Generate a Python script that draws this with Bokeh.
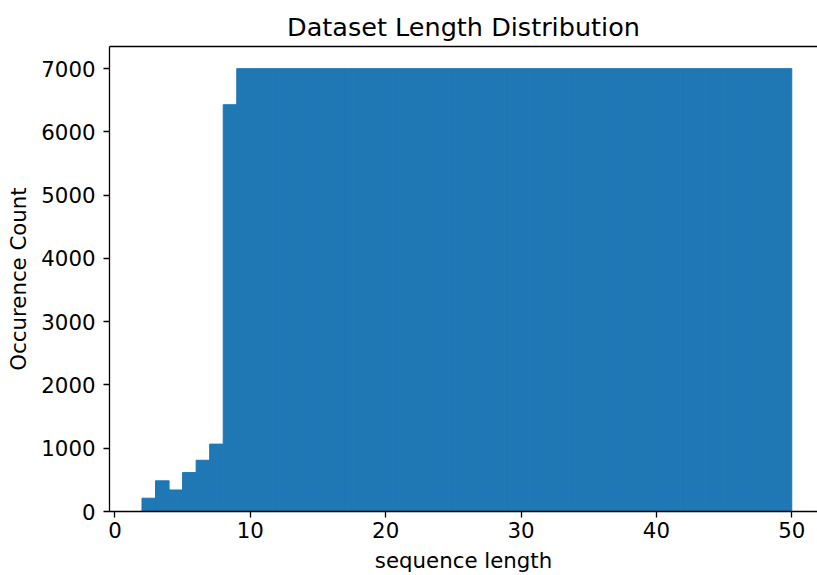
from bokeh.plotting import figure
from bokeh.models import Range1d, LinearAxis, FixedTicker, ColumnDataSource
from bokeh.embed import file_html
from bokeh.resources import INLINE

# Histogram of sequence lengths (one bin per integer length)
bin_start = [2, 3, 4, 5, 6, 7, 8, 9, 10, 11, 12, 13, 14, 15, 16, 17, 18, 19, 20,
             21, 22, 23, 24, 25, 26, 27, 28, 29, 30, 31, 32, 33, 34, 35, 36, 37,
             38, 39, 40, 41, 42, 43, 44, 45, 46, 47, 48, 49]
counts = [210, 485, 340, 615, 810, 1065, 6430,
          7000, 7000, 7000, 7000, 7000, 7000, 7000, 7000, 7000, 7000, 7000,
          7000, 7000, 7000, 7000, 7000, 7000, 7000, 7000, 7000, 7000, 7000,
          7000, 7000, 7000, 7000, 7000, 7000, 7000, 7000, 7000, 7000, 7000,
          7000, 7000, 7000, 7000, 7000, 7000, 7000, 7000]
x_ticks = [0, 10, 20, 30, 40, 50]
y_ticks = [0, 1000, 2000, 3000, 4000, 5000, 6000, 7000]

source = ColumnDataSource(dict(
    left=bin_start,
    right=[b + 1 for b in bin_start],
    top=counts,
    bottom=[0] * len(counts),
))

FONT = "DejaVu Sans"
BAR = "#1f77b4"

p = figure(width=817, height=575, output_backend="svg", toolbar_location=None,
           x_range=Range1d(-0.4, 51.9), y_range=Range1d(0, 7350),
           min_border_left=109, min_border_right=0, min_border_top=46,
           min_border_bottom=64)

# a thin outline in the fill colour hides the seams between adjacent bins
p.quad(left="left", right="right", top="top", bottom="bottom", source=source,
       fill_color=BAR, line_color=BAR, line_width=1)

p.title.text = "Dataset Length Distribution"
p.title.align = "center"
p.title.text_font = FONT
p.title.text_font_size = "25.5px"
p.title.text_font_style = "normal"
p.title.text_color = "black"
p.title.offset = 0

p.outline_line_color = None
p.xgrid.visible = False
p.ygrid.visible = False
p.background_fill_color = "white"
p.border_fill_color = "white"

for ax, ticks, label in ((p.xaxis[0], x_ticks, "sequence length"),
                         (p.yaxis[0], y_ticks, "Occurence Count")):
    ax.ticker = FixedTicker(ticks=ticks)
    ax.axis_label = label
    ax.axis_label_text_font = FONT
    ax.axis_label_text_font_size = "21.3px"
    ax.axis_label_text_font_style = "normal"
    ax.axis_label_text_color = "black"
    ax.major_label_text_font = FONT
    ax.major_label_text_font_size = "21.3px"
    ax.major_label_text_color = "black"
    ax.axis_line_width = 1.3
    ax.axis_line_color = "black"
    ax.major_tick_line_width = 1.3
    ax.major_tick_line_color = "black"
    ax.major_tick_in = 0
    ax.major_tick_out = 6
    ax.minor_tick_line_color = None

p.xaxis[0].major_label_standoff = 4
p.xaxis[0].axis_label_standoff = 7
p.yaxis[0].major_label_standoff = 8
p.yaxis[0].axis_label_standoff = 7

# top spine as a bare axis line
top = LinearAxis(major_tick_line_color=None, minor_tick_line_color=None,
                 major_label_text_font_size="0px", axis_line_width=1.3,
                 axis_line_color="black")
top.ticker = FixedTicker(ticks=[])
p.add_layout(top, "above")

open("out.html", "w").write(file_html(p, INLINE))
